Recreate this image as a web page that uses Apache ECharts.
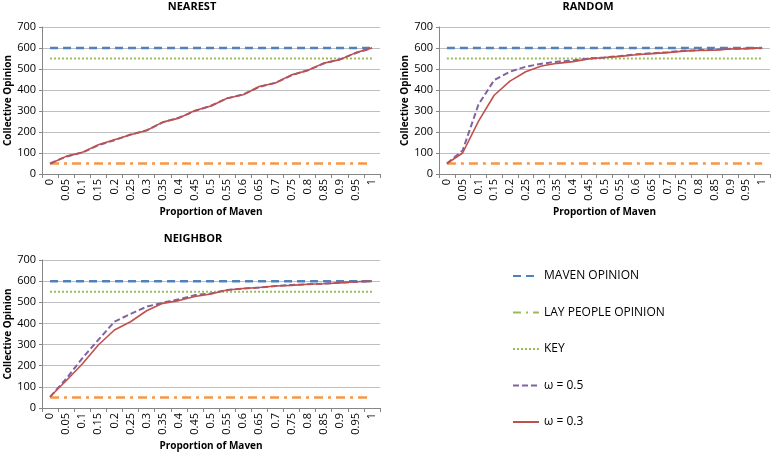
<!DOCTYPE html>
<html>
<head>
<meta charset="utf-8">
<script src="https://cdn.jsdelivr.net/npm/echarts@6/dist/echarts.min.js"></script>
<style>
  html, body { margin: 0; padding: 0; background: #fff; }
  #chart { width: 777px; height: 452px; }
</style>
</head>
<body>
<div id="chart"></div>
<script>
const categories = ['0', '0.05', '0.1', '0.15', '0.2', '0.25', '0.3', '0.35', '0.4', '0.45', '0.5',
  '0.55', '0.6', '0.65', '0.7', '0.75', '0.8', '0.85', '0.9', '0.95', '1']
const yTicks = [0, 100, 200, 300, 400, 500, 600, 700]

const mavenOpinion = [600, 600, 600, 600, 600, 600, 600, 600, 600, 600, 600, 600, 600, 600, 600, 600, 600, 600, 600, 600, 600]
const layOpinion = [50, 50, 50, 50, 50, 50, 50, 50, 50, 50, 50, 50, 50, 50, 50, 50, 50, 50, 50, 50, 50]
const keyOpinion = [550, 550, 550, 550, 550, 550, 550, 550, 550, 550, 550, 550, 550, 550, 550, 550, 550, 550, 550, 550, 550]

const nearestW05 = [50, 83, 102, 137, 161, 188, 208, 246, 268, 300, 325, 360, 379, 415, 434, 470, 494, 526, 546, 576, 600]
const nearestW03 = [49, 84, 103, 139, 163, 187, 207, 247, 266, 302, 324, 361, 377, 417, 433, 472, 493, 528, 544, 578, 600]

const randomW05 = [50, 112, 330, 447, 487, 511, 525, 535, 541, 550, 555, 562, 570, 575, 580, 587, 590, 592, 596, 598, 600]
const randomW03 = [50, 100, 251, 375, 442, 487, 514, 527, 535, 548, 555, 560, 568, 573, 578, 585, 588, 590, 595, 597, 600]

const neighborW05 = [53, 138, 235, 322, 408, 445, 479, 498, 514, 534, 542, 558, 565, 570, 577, 582, 585, 588, 593, 597, 600]
const neighborW03 = [53, 129, 208, 298, 369, 408, 460, 495, 508, 527, 539, 558, 565, 570, 577, 580, 585, 588, 592, 597, 600]

const panels = [
  { title: 'NEAREST', w05: nearestW05, w03: nearestW03 },
  { title: 'RANDOM', w05: randomW05, w03: randomW03 },
  { title: 'NEIGHBOR', w05: neighborW05, w03: neighborW03 },
]

const FONT = 'Open Sans'
const chart = echarts.init(document.getElementById('chart'), null, { renderer: 'canvas' })

const grids = [
  { left: 42, top: 27, width: 338, height: 147 },
  { left: 439, top: 27, width: 331, height: 147 },
  { left: 42, top: 260, width: 338, height: 148 },
]

const xAxes = grids.map((g, i) => ({
  type: 'category',
  gridIndex: i,
  data: categories,
  name: 'Proportion of Maven',
  nameLocation: 'middle',
  nameGap: 33,
  nameTextStyle: { fontFamily: FONT, fontSize: 10, fontWeight: 'bold', color: '#000' },
  axisLine: { lineStyle: { color: '#868686' } },
  axisTick: { show: true, interval: 0, length: 4, lineStyle: { color: '#868686' } },
  axisLabel: { interval: 0, rotate: 90, fontFamily: FONT, fontSize: 11, color: '#000', margin: 5 },
  splitLine: { show: false },
}))

const yAxes = grids.map((g, i) => ({
  type: 'value',
  gridIndex: i,
  min: yTicks[0],
  max: yTicks[yTicks.length - 1],
  interval: 100,
  name: 'Collective Opinion',
  nameLocation: 'middle',
  nameGap: 28,
  nameTextStyle: { fontFamily: FONT, fontSize: 10, fontWeight: 'bold', color: '#000' },
  axisLine: { show: true, lineStyle: { color: '#868686' } },
  axisTick: { show: true, length: 3, lineStyle: { color: '#868686' } },
  axisLabel: { fontFamily: FONT, fontSize: 11, color: '#000', margin: 6 },
  splitLine: { lineStyle: { color: '#bfbfbf', width: 1 } },
}))

const titles = [
  { text: 'NEAREST', left: 187, top: -4 },
  { text: 'RANDOM', left: 583, top: -4 },
  { text: 'NEIGHBOR', left: 188, top: 228 },
].map(t => ({
  text: t.text,
  left: t.left,
  top: t.top,
  textAlign: 'center',
  textStyle: { fontFamily: FONT, fontSize: 11, fontWeight: 'bold', color: '#000' },
}))

const series = []
panels.forEach((p, i) => {
  const base = { type: 'line', xAxisIndex: i, yAxisIndex: i, symbol: 'none', silent: true, animation: false }
  series.push({ ...base, name: 'MAVEN OPINION', data: mavenOpinion,
    lineStyle: { color: '#4F81BD', width: 2.5, type: [8, 5] }, itemStyle: { color: '#4F81BD' } })
  series.push({ ...base, name: 'LAY PEOPLE OPINION', data: layOpinion,
    lineStyle: { color: '#F79646', width: 2.5, type: [9, 5, 3, 5] }, itemStyle: { color: '#F79646' } })
  series.push({ ...base, name: 'KEY', data: keyOpinion,
    lineStyle: { color: '#9BBB59', width: 2, type: [2, 2] }, itemStyle: { color: '#9BBB59' } })
  series.push({ ...base, name: 'ω = 0.5', data: p.w05,
    lineStyle: { color: '#8064A2', width: 2, type: [6, 3] }, itemStyle: { color: '#8064A2' } })
  series.push({ ...base, name: 'ω = 0.3', data: p.w03,
    lineStyle: { color: '#C0504D', width: 1.6 }, itemStyle: { color: '#C0504D' } })
})

chart.setOption({
  backgroundColor: '#fff',
  title: titles,
  grid: grids,
  xAxis: xAxes,
  yAxis: yAxes,
  legend: {
    orient: 'vertical',
    left: 507,
    top: 265,
    itemWidth: 26,
    itemHeight: 14,
    itemGap: 24.5,
    selectedMode: false,
    itemStyle: { opacity: 0 },
    textStyle: { fontFamily: FONT, fontSize: 12, color: '#000' },
    data: [
      { name: 'MAVEN OPINION' },
      { name: 'LAY PEOPLE OPINION', lineStyle: { color: '#9BBB59', type: [8, 5, 2, 5] } },
      { name: 'KEY' },
      { name: 'ω = 0.5' },
      { name: 'ω = 0.3' },
    ],
  },
  series,
})
</script>
</body>
</html>
